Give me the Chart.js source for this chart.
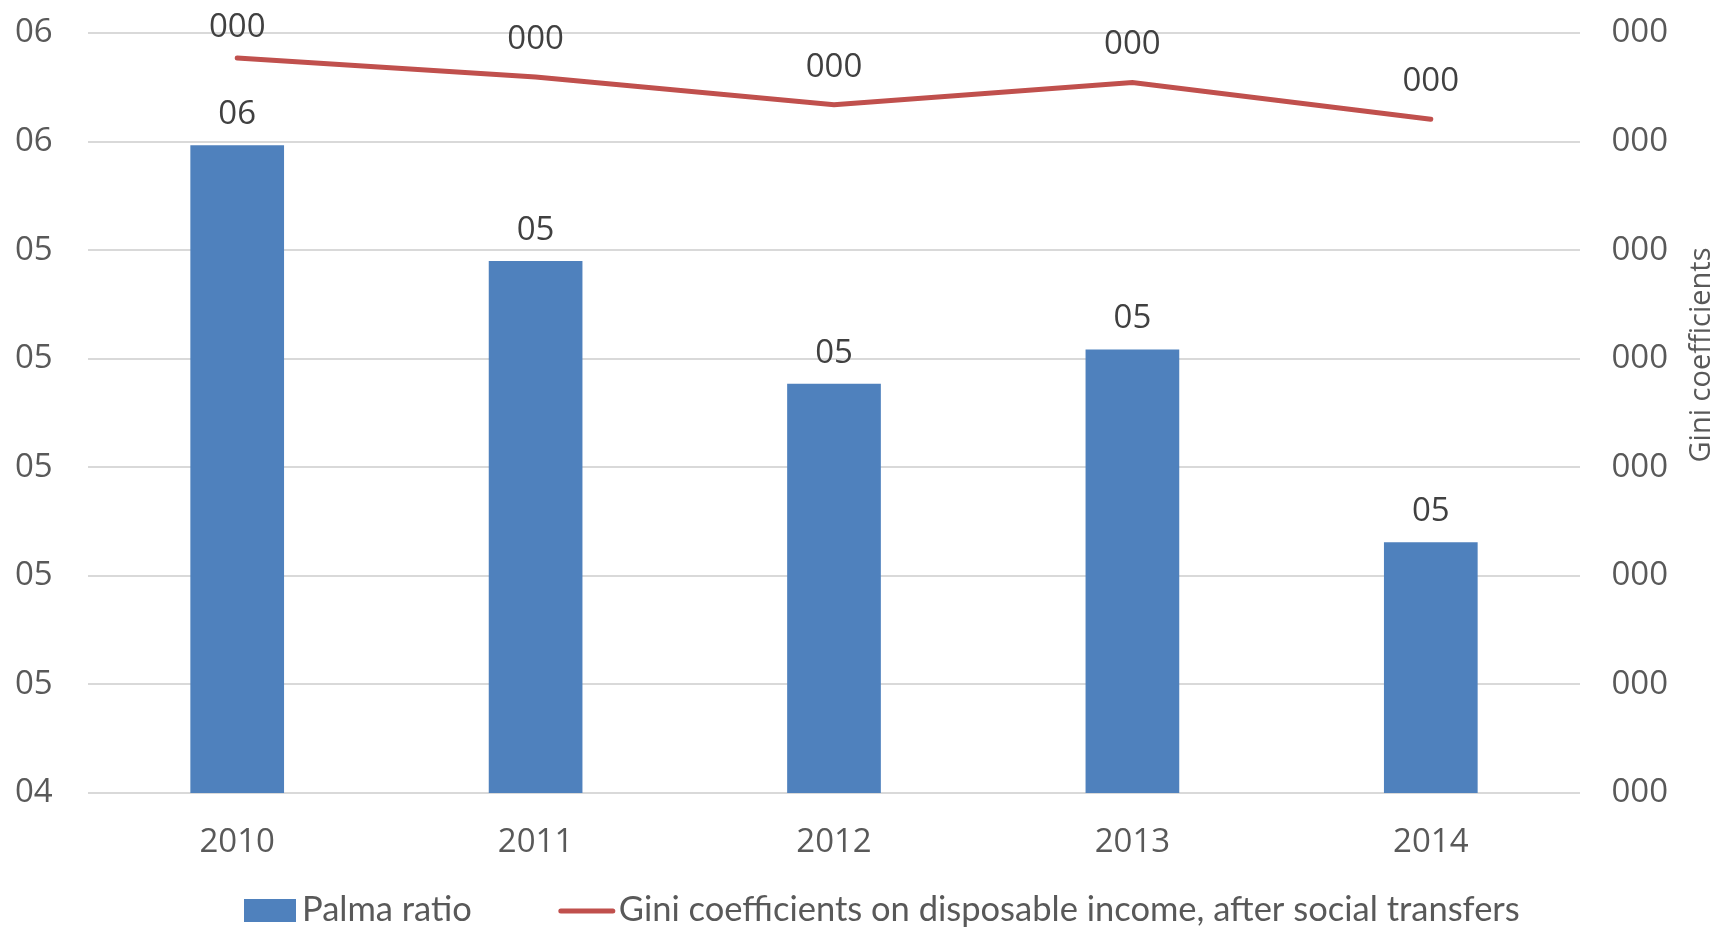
<!DOCTYPE html>
<html>
<head>
<meta charset="utf-8">
<script src="https://cdn.jsdelivr.net/npm/chart.js@4"></script>
<style>
  html, body { margin: 0; padding: 0; background: #fff; }
  #wrap { width: 1729px; height: 937px; }
</style>
</head>
<body>
<div id="wrap"><canvas id="myChart" width="1729" height="937"></canvas></div>
<script>
// data
const years = ['2010', '2011', '2012', '2013', '2014'];
const palmaRatio = [5.593, 5.380, 5.154, 5.217, 4.862];
const giniCoef = [0.3354, 0.3319, 0.3268, 0.3309, 0.3241];
const palmaTicks = [4.4, 5.8, 0.2];   // min, max, step
const giniTicks = [0.20, 0.34, 0.02]; // min, max, step

const tickFont = { family: "'Open Sans'", size: 33 };
const fmt = (v, n) => String(Math.round(v)).padStart(n, '0');

// labels above each bar / line point (kept inside the top of the canvas)
const valueLabels = {
    id: 'valueLabels',
    afterDatasetsDraw(chart) {
        const ctx = chart.ctx;
        ctx.save();
        ctx.font = "33px 'Open Sans'";
        ctx.fillStyle = '#404040';
        ctx.textAlign = 'center';
        ctx.textBaseline = 'alphabetic';
        chart.data.datasets.forEach((ds, i) => {
            const meta = chart.getDatasetMeta(i);
            meta.data.forEach((el, j) => {
                const isBar = ds.type === 'bar';
                const txt = fmt(ds.data[j], isBar ? 2 : 3);
                const y = Math.max(el.y - (isBar ? 21 : 28), 37);
                ctx.fillText(txt, el.x, y);
            });
        });
        ctx.restore();
    }
};

// legend + right axis title, drawn like the original
const extras = {
    id: 'extras',
    afterDraw(chart) {
        const ctx = chart.ctx;
        const ds = chart.data.datasets;
        ctx.save();
        ctx.font = '34.5px Lato';
        ctx.textBaseline = 'middle';
        let x = 244;
        const y = 910;
        ctx.fillStyle = ds[0].backgroundColor;
        ctx.fillRect(x, 899, 52, 23);
        x += 58;
        ctx.fillStyle = '#595959';
        ctx.fillText(ds[0].label, x, y);
        x += ctx.measureText(ds[0].label).width + 87;
        ctx.strokeStyle = ds[1].borderColor;
        ctx.lineWidth = 5;
        ctx.lineCap = 'round';
        ctx.beginPath();
        ctx.moveTo(x + 2, 911);
        ctx.lineTo(x + 54, 911);
        ctx.stroke();
        x += 60;
        ctx.fillText(ds[1].label, x, y);

        // right axis title
        const t = chart.options.scales.y1.title;
        ctx.font = "29px 'Open Sans'";
        ctx.textAlign = 'center';
        ctx.translate(1702, 355);
        ctx.rotate(-Math.PI / 2);
        ctx.fillText(t.text, 0, 0);
        ctx.restore();
    }
};

function draw() {
    const ctx = document.getElementById('myChart').getContext('2d');
    new Chart(ctx, {
        data: {
            labels: years,
            datasets: [{
                type: 'bar',
                label: 'Palma ratio',
                data: palmaRatio,
                backgroundColor: '#4F81BD',
                yAxisID: 'y',
                barPercentage: 0.314,
                categoryPercentage: 1,
                order: 2
            }, {
                type: 'line',
                label: 'Gini coefficients on disposable income, after social transfers',
                data: giniCoef,
                borderColor: '#C0504D',
                backgroundColor: '#C0504D',
                borderWidth: 5,
                borderCapStyle: 'round',
                pointRadius: 0,
                tension: 0,
                yAxisID: 'y1',
                order: 1
            }]
        },
        options: {
            responsive: false,
            animation: false,
            layout: { padding: { top: 33, bottom: 70, left: 15, right: 61 } },
            plugins: {
                legend: { display: false },
                tooltip: { enabled: false }
            },
            scales: {
                x: {
                    grid: { display: false },
                    border: { display: false },
                    ticks: { color: '#595959', font: tickFont, padding: 22 },
                    afterFit: s => { s.height = 74; }
                },
                y: {
                    position: 'left',
                    min: palmaTicks[0],
                    max: palmaTicks[1],
                    ticks: {
                        stepSize: palmaTicks[2],
                        color: '#595959',
                        font: tickFont,
                        padding: 0,
                        crossAlign: 'far',
                        callback: v => fmt(v, 2)
                    },
                    grid: { color: '#D9D9D9', lineWidth: 2, drawTicks: false },
                    border: { display: false },
                    afterFit: s => { s.width = 73; }
                },
                y1: {
                    position: 'right',
                    min: giniTicks[0],
                    max: giniTicks[1],
                    title: { display: false, text: 'Gini coefficients' },
                    ticks: {
                        stepSize: giniTicks[2],
                        color: '#595959',
                        font: tickFont,
                        padding: 0,
                        crossAlign: 'far',
                        callback: v => fmt(v, 3)
                    },
                    grid: { drawOnChartArea: false, drawTicks: false },
                    border: { display: false },
                    afterFit: s => { s.width = 88; }
                }
            }
        },
        plugins: [valueLabels, extras]
    });
}

Promise.all([
    document.fonts.load("33px 'Open Sans'"),
    document.fonts.load("29px 'Open Sans'"),
    document.fonts.load('34.5px Lato')
]).then(draw, draw);
</script>
</body>
</html>
